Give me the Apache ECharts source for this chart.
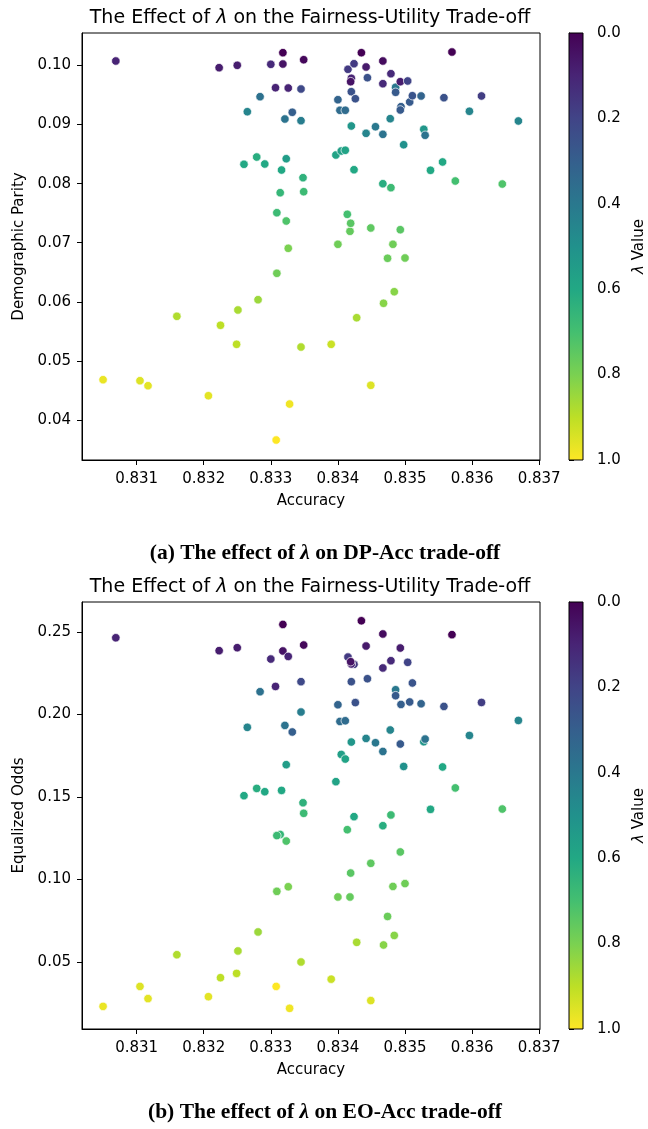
<!DOCTYPE html>
<html><head><meta charset="utf-8">
<script src="https://cdn.jsdelivr.net/npm/echarts@6/dist/echarts.min.js"></script>
<style>html,body{margin:0;padding:0;background:#fff}#c{width:648px;height:1129px}</style>
</head><body><div id="c"></div><script>
const accuracy = [0.83050,0.83069,0.83105,0.83117,0.83160,0.83207,0.83223,0.83225,0.83251,0.83249,
0.83250,0.83260,0.83265,0.83279,0.83281,0.83284,0.83291,0.83300,0.83307,0.83308,
0.83314,0.83309,0.83309,0.83316,0.83318,0.83318,0.83321,0.83323,0.83323,0.83326,
0.83326,0.83328,0.83332,0.83345,0.83345,0.83345,0.83348,0.83349,0.83349,0.83390,
0.83397,0.83400,0.83400,0.83403,0.83405,0.83411,0.83411,0.83414,0.83415,0.83418,
0.83419,0.83424,0.83420,0.83419,0.83420,0.83426,0.83420,0.83424,0.83428,0.83435,
0.83442,0.83442,0.83444,0.83449,0.83449,0.83456,0.83467,0.83467,0.83467,0.83467,
0.83468,0.83474,0.83478,0.83479,0.83479,0.83482,0.83484,0.83486,0.83486,0.83493,
0.83493,0.83494,0.83493,0.83498,0.83500,0.83504,0.83507,0.83511,0.83524,0.83528,
0.83530,0.83538,0.83556,0.83558,0.83570,0.83575,0.83596,0.83614,0.83645,0.83669];
const demographicParity = [0.04682,0.10076,0.04665,0.04580,0.05755,0.04411,0.09963,0.05603,0.05862,0.05281,
0.10003,0.08328,0.09218,0.08451,0.06036,0.09472,0.08333,0.10020,0.09624,0.03661,
0.07847,0.07508,0.06483,0.08231,0.10217,0.10025,0.09094,0.08422,0.07368,0.06906,
0.09619,0.04270,0.09208,0.09602,0.09066,0.05235,0.08101,0.10098,0.07864,0.05281,
0.08485,0.09421,0.06974,0.09242,0.08553,0.09242,0.08565,0.07481,0.09936,0.07194,
0.07329,0.10030,0.09783,0.09726,0.09557,0.09438,0.08976,0.08236,0.05731,0.10217,
0.09975,0.08852,0.09794,0.07250,0.04587,0.08964,0.10076,0.09692,0.08835,0.07999,
0.05975,0.06737,0.09100,0.09861,0.07932,0.06974,0.06171,0.09631,0.09546,0.09726,
0.07221,0.09303,0.09247,0.08659,0.06742,0.09738,0.09382,0.09489,0.09484,0.08920,
0.08819,0.08226,0.08367,0.09455,0.10228,0.08045,0.09225,0.09484,0.07994,0.09061];
const equalizedOdds = [0.0231,0.2465,0.0352,0.0278,0.0544,0.0290,0.2387,0.0405,0.0567,0.0431,
0.2405,0.1508,0.1922,0.1552,0.0682,0.2138,0.1532,0.2336,0.2170,0.0352,
0.1273,0.1266,0.0928,0.1540,0.2546,0.2385,0.1934,0.1696,0.1233,0.0956,
0.2352,0.0219,0.1894,0.2199,0.2015,0.0500,0.1465,0.2421,0.1401,0.0396,
0.1593,0.2059,0.0894,0.1958,0.1758,0.1962,0.1730,0.1302,0.2348,0.0894,
0.1039,0.2304,0.2306,0.2320,0.2199,0.2072,0.1833,0.1381,0.0619,0.2568,
0.2415,0.1855,0.2217,0.1098,0.0266,0.1829,0.2488,0.2282,0.1776,0.1326,
0.0603,0.0776,0.1906,0.2326,0.1391,0.0958,0.0661,0.2150,0.2114,0.2403,
0.1167,0.2061,0.1821,0.1685,0.0975,0.2316,0.2076,0.2191,0.2065,0.1835,
0.1851,0.1425,0.1682,0.2049,0.2484,0.1555,0.1873,0.2073,0.1427,0.1964];
const lambdaValue = [0.97,0.10,0.95,0.96,0.88,0.96,0.08,0.90,0.87,0.90,
0.08,0.60,0.45,0.62,0.85,0.37,0.60,0.12,0.10,1.00,
0.66,0.68,0.78,0.60,0.00,0.05,0.38,0.55,0.72,0.80,
0.10,0.98,0.30,0.22,0.42,0.88,0.64,0.02,0.68,0.92,
0.58,0.32,0.78,0.35,0.56,0.35,0.58,0.70,0.17,0.76,
0.74,0.17,0.10,0.05,0.25,0.25,0.52,0.60,0.87,0.00,
0.07,0.45,0.25,0.75,0.95,0.40,0.03,0.12,0.38,0.62,
0.82,0.77,0.45,0.12,0.68,0.78,0.82,0.40,0.28,0.08,
0.74,0.30,0.28,0.50,0.78,0.20,0.28,0.26,0.32,0.52,
0.38,0.60,0.60,0.25,0.00,0.70,0.45,0.18,0.72,0.45];
const accTicks = [0.831,0.832,0.833,0.834,0.835,0.836,0.837];
const dpTicks = [0.04,0.05,0.06,0.07,0.08,0.09,0.10];
const eoTicks = [0.05,0.10,0.15,0.20,0.25];
const lambdaTicks = [0.0,0.2,0.4,0.6,0.8,1.0];
const lambdaRange = [0, 1];

const viridis = ['#440154','#482475','#414487','#355f8d','#2a788e','#21918c','#22a884','#44bf70','#7ad151','#bddf26','#fde725'];
const FONT = 'DejaVu Sans';
const X_MIN = 0.830186, X_MAX = 0.837012;

const chart = echarts.init(document.getElementById('c'), null, {renderer:'canvas'});

function plotX(gi, ticks) {
  return {gridIndex: gi, type:'value', min: X_MIN, max: X_MAX,
    name:'Accuracy', nameLocation:'middle', nameGap: 34,
    nameTextStyle:{fontFamily:FONT, fontSize:15, color:'#000'},
    axisLine:{show:true, onZero:false, lineStyle:{color:'#000', width:1}},
    axisTick:{show:true, length:5, customValues: ticks, lineStyle:{color:'#000', width:1}},
    axisLabel:{customValues: ticks, formatter: v => (+v).toFixed(3), margin:12, fontFamily:FONT, fontSize:15, color:'#000'},
    splitLine:{show:false}};
}
function plotY(gi, name, min, max, ticks) {
  return {gridIndex: gi, type:'value', min, max,
    name, nameLocation:'middle', nameGap: 55, nameRotate: 90,
    nameTextStyle:{fontFamily:FONT, fontSize:15, color:'#000'},
    axisLine:{show:true, onZero:false, lineStyle:{color:'#000', width:1}},
    axisTick:{show:true, length:5, customValues: ticks, lineStyle:{color:'#000', width:1}},
    axisLabel:{customValues: ticks, formatter: v => (+v).toFixed(2), margin:11, fontFamily:FONT, fontSize:15, color:'#000'},
    splitLine:{show:false}};
}
function cbX(gi) { return {gridIndex: gi, type:'value', min:0, max:1, show:false}; }
function cbY(gi) {
  return {gridIndex: gi, type:'value', min: lambdaRange[0], max: lambdaRange[1], inverse:true, position:'right',
    name:'{i|λ} Value', nameLocation:'middle', nameGap: 49, nameRotate: 90,
    nameTextStyle:{fontFamily:FONT, fontSize:15, color:'#000', rich:{i:{fontFamily:FONT, fontSize:15, fontStyle:'italic', color:'#000'}}},
    axisLine:{show:true, lineStyle:{color:'#000', width:1}},
    axisTick:{show:true, length:5, customValues: lambdaTicks, lineStyle:{color:'#000', width:1}},
    axisLabel:{customValues: lambdaTicks, formatter: v => (+v).toFixed(1), margin:14, fontFamily:FONT, fontSize:15, color:'#000'},
    splitLine:{show:false}};
}
const gradStops = viridis.map((c, i) => ({offset: i / (viridis.length - 1), color: c}));
function cbSeries(ax) {
  return {type:'custom', xAxisIndex: ax, yAxisIndex: ax, data:[[0, lambdaRange[0]]], silent:true, z:1,
    renderItem: (params, api) => {
      const p0 = api.coord([0, lambdaRange[0]]);
      const p1 = api.coord([1, lambdaRange[1]]);
      return {type:'rect', shape:{x: Math.min(p0[0],p1[0]), y: Math.min(p0[1],p1[1]), width: Math.abs(p1[0]-p0[0]), height: Math.abs(p1[1]-p0[1])},
        style:{fill: new echarts.graphic.LinearGradient(0,0,0,1, gradStops), stroke:'#000', lineWidth:1}};
    }};
}
const dpData = accuracy.map((a, i) => [a, demographicParity[i], lambdaValue[i]]);
const eoData = accuracy.map((a, i) => [a, equalizedOdds[i], lambdaValue[i]]);
const pointStyle = {symbolSize: 8.5, itemStyle:{borderColor:'#fff', borderWidth:0.7, opacity:1}};

const titleText = '{n|The Effect of }{i|λ}{n| on the Fairness-Utility Trade-off}';
const titleRich = {n:{fontFamily:FONT, fontSize:19, color:'#000'}, i:{fontFamily:FONT, fontSize:19, fontStyle:'italic', color:'#000'}};
const capRich = {n:{fontFamily:'Liberation Serif', fontSize:21.5, fontWeight:'bold', color:'#000'}, i:{fontFamily:'Liberation Serif', fontSize:21.5, fontWeight:'bold', fontStyle:'italic', color:'#000'}};

chart.setOption({
  animation:false,
  grid:[
    {left:82, top:33, width:458, height:427, show:true, borderColor:'#000', borderWidth:1, backgroundColor:'transparent'},
    {left:569, top:33, width:20, height:427, show:false},
    {left:82, top:602, width:458, height:427, show:true, borderColor:'#000', borderWidth:1, backgroundColor:'transparent'},
    {left:569, top:602, width:20, height:427, show:false}
  ],
  xAxis:[plotX(0, accTicks), cbX(1), plotX(2, accTicks), cbX(3)],
  yAxis:[plotY(0, 'Demographic Parity', 0.03323, 0.10550, dpTicks), cbY(1),
         plotY(2, 'Equalized Odds', 0.00939, 0.26818, eoTicks), cbY(3)],
  visualMap:[{type:'continuous', show:false, min: lambdaRange[0], max: lambdaRange[1], dimension:2, seriesIndex:[0,2], inRange:{color: viridis}}],
  series:[
    Object.assign({type:'scatter', xAxisIndex:0, yAxisIndex:0, data: dpData}, pointStyle),
    cbSeries(1),
    Object.assign({type:'scatter', xAxisIndex:2, yAxisIndex:2, data: eoData}, pointStyle),
    cbSeries(3)
  ],
  graphic:[
    {type:'text', x:310, y:18, style:{text:titleText, rich:titleRich, align:'center', verticalAlign:'middle'}},
    {type:'text', x:310, y:587, style:{text:titleText, rich:titleRich, align:'center', verticalAlign:'middle'}},
    {type:'text', x:325, y:553, style:{text:'{n|(a) The effect of }{i|λ}{n| on DP-Acc trade-off}', rich:capRich, align:'center', verticalAlign:'middle'}},
    {type:'text', x:325, y:1112, style:{text:'{n|(b) The effect of }{i|λ}{n| on EO-Acc trade-off}', rich:capRich, align:'center', verticalAlign:'middle'}}
  ]
});
</script></body></html>
